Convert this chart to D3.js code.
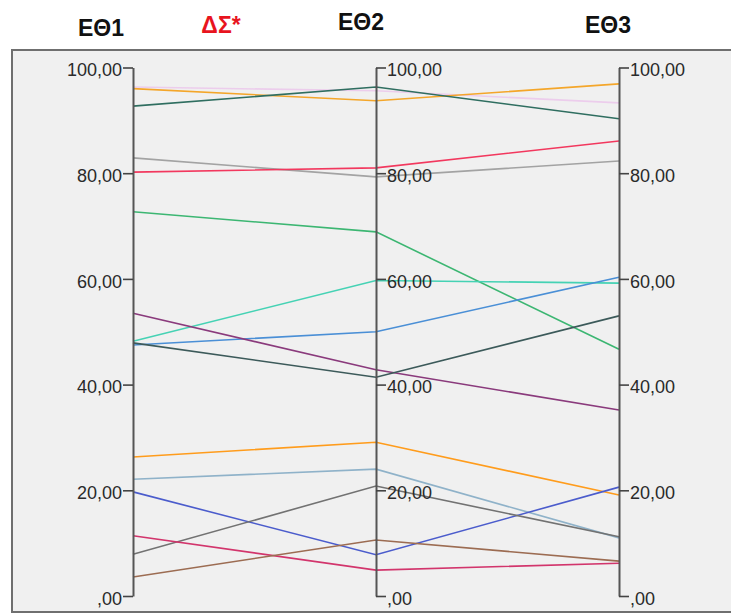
<!DOCTYPE html>
<html>
<head>
<meta charset="utf-8">
<script src="https://cdn.jsdelivr.net/npm/d3@7"></script>
<style>
  html, body { margin: 0; padding: 0; background: #ffffff; }
  svg { display: block; }
</style>
</head>
<body>
<svg id="chart" width="731" height="615"></svg>
<script>
// ---- data ----
const dimensions = ["ΕΘ1", "ΕΘ2", "ΕΘ3"];
const e1Values = [96.0, 92.7, 96.3, 82.9, 80.2, 72.7, 48.2, 47.5, 53.5, 47.9, 26.3, 22.1, 19.7, 7.9, 11.4, 3.6];
const e2Values = [93.7, 96.3, 95.6, 79.3, 81.0, 68.9, 59.7, 50.0, 42.8, 41.4, 29.1, 24.0, 7.8, 20.8, 4.9, 10.6];
const e3Values = [96.9, 90.3, 93.3, 82.3, 86.1, 46.7, 59.2, 60.3, 35.2, 53.0, 19.1, 11.0, 20.6, 11.2, 6.2, 6.6];
const tickValues = [0, 20, 40, 60, 80, 100];
const tickLabels = [",00", "20,00", "40,00", "60,00", "80,00", "100,00"];
const headerLabels = ["ΕΘ1", "ΔΣ*", "ΕΘ2", "ΕΘ3"];

// ---- styles ----
const palette = ["#f4a62a", "#2f6e60", "#eccdec", "#a3a3a3", "#f2385e", "#3cb672",
                 "#45d2b4", "#4a8fd6", "#8a3a7c", "#3c5a5a", "#ff9c1c", "#8fb2c9",
                 "#4b5ccc", "#727272", "#d2356c", "#9c6c52"];
const drawOrder = [2, 0, 1, 3, 4, 5, 6, 7, 8, 9, 10, 11, 12, 13, 14, 15];

const svg = d3.select("#chart");

// panel
svg.append("rect")
  .attr("x", 12).attr("y", 50)
  .attr("width", 740).attr("height", 562)
  .attr("fill", "#f0f0f0")
  .attr("stroke", "#6f6f6f")
  .attr("stroke-width", 2);

const x = d3.scalePoint().domain(dimensions).range([133, 619]);
const y = d3.scaleLinear().domain([0, 100]).range([596, 67.5]);

const rows = drawOrder.map(i => ({ vals: [e1Values[i], e2Values[i], e3Values[i]], color: palette[i] }));

const line = d3.line()
  .x((d, i) => x(dimensions[i]))
  .y(d => y(d));

svg.append("g").selectAll("path")
  .data(rows)
  .join("path")
  .attr("d", d => line(d.vals))
  .attr("fill", "none")
  .attr("stroke", d => d.color)
  .attr("stroke-width", 1.6);

// axes
const fmt = d => tickLabels[tickValues.indexOf(d)];
dimensions.forEach((dim, i) => {
  const ax = (i === 0 ? d3.axisLeft(y) : d3.axisRight(y))
    .tickValues(tickValues)
    .tickFormat(fmt)
    .tickSize(10)
    .tickPadding(1)
    .tickSizeOuter(0);
  const g = svg.append("g")
    .attr("transform", `translate(${x(dim)},0)`)
    .call(ax);
  g.select(".domain").attr("stroke", "#555").attr("stroke-width", 2);
  g.selectAll(".tick line").attr("stroke", "#444").attr("stroke-width", 1.6);
  g.selectAll(".tick text")
    .attr("fill", "#2a2a2a")
    .attr("font-family", "'Liberation Sans', Arial, sans-serif")
    .attr("font-size", 18)
    .attr("dy", "0.45em");
});

// header labels
const headerX = [101, 221, 361, 608];
const headerY = [36, 33, 30, 33];
const headerColor = ["#111", "#e8141e", "#111", "#111"];
svg.append("g").selectAll("text")
  .data(headerLabels)
  .join("text")
  .attr("x", (d, i) => headerX[i])
  .attr("y", (d, i) => headerY[i])
  .attr("text-anchor", "middle")
  .attr("font-family", "'Liberation Sans', Arial, sans-serif")
  .attr("font-weight", "bold")
  .attr("font-size", 23)
  .attr("fill", (d, i) => headerColor[i])
  .text(d => d);
</script>
</body>
</html>
